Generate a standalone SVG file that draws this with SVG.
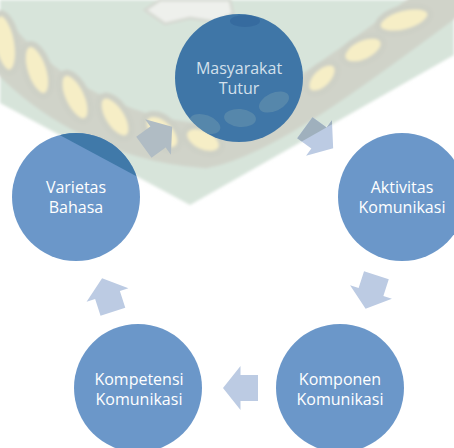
<svg xmlns="http://www.w3.org/2000/svg" width="454" height="448" viewBox="0 0 454 448">
<defs>
<style>
.node{fill:#6b97c9}
.lbl{font-family:"Open Sans","Noto Sans",sans-serif;font-size:16px;fill:#ffffff;text-anchor:middle}
.arr{fill:#bccbe3}
.leaf{fill:#f6eec6;stroke:#cdd0c6;stroke-width:6}
.tint{fill:#6e98b0;opacity:0.5}
</style>
<polygon id="arrow" points="-17.5,-13 0,-13 0,-22 17.5,0 0,22 0,13 -17.5,13"/>
<clipPath id="shieldClip"><polygon points="0,0 454,0 454,55 190,205 0,103"/></clipPath>
<clipPath id="topClip"><circle cx="239" cy="78" r="64"/></clipPath>
<filter id="soft" x="-5%" y="-5%" width="110%" height="110%"><feGaussianBlur stdDeviation="1.8"/></filter>
</defs>
<rect width="454" height="448" fill="#ffffff"/>
<g id="watermark" filter="url(#soft)">
  <polygon points="0,0 454,0 454,55 190,205 0,103" fill="#d7e4da"/>
  <path d="M -12,30 C 40,98 120,140 205,146 C 265,134 360,62 462,-14" fill="none" stroke="#d0d3c9" stroke-width="44"/>
  <ellipse class="leaf" cx="5" cy="43" rx="30" ry="12" transform="rotate(80 5 43)"/>
  <ellipse class="leaf" cx="37" cy="70" rx="27" ry="12" transform="rotate(72 37 70)"/>
  <ellipse class="leaf" cx="75" cy="97" rx="26" ry="12" transform="rotate(65 75 97)"/>
  <ellipse class="leaf" cx="115" cy="117" rx="24" ry="12" transform="rotate(58 115 117)"/>
  <ellipse class="leaf" cx="162" cy="132" rx="22" ry="13" transform="rotate(45 162 132)"/>
  <ellipse class="leaf" cx="203" cy="140" rx="20" ry="12" transform="rotate(25 203 140)"/>
  <ellipse class="leaf" cx="322" cy="78" rx="19" ry="11" transform="rotate(-45 322 78)"/>
  <ellipse class="leaf" cx="363" cy="50" rx="22" ry="12" transform="rotate(-25 363 50)"/>
  <ellipse class="leaf" cx="404" cy="20" rx="27" ry="12" transform="rotate(-15 404 20)"/>
  <polygon points="145,10 160,0 230,0 233,14 215,22 190,18 165,24" fill="#eef0ec" stroke="#d6d9d2" stroke-width="3"/>
</g>
<g id="connectors">
  <use href="#arrow" style="fill:#b0bcc4" transform="translate(158 137) rotate(-36)"/>
  <use href="#arrow" class="arr" transform="translate(319 138) rotate(36)"/>
  <g clip-path="url(#shieldClip)"><use href="#arrow" style="fill:#9fb0bd" transform="translate(319 138) rotate(36)"/></g>
  <use href="#arrow" class="arr" transform="translate(371 292) rotate(108)"/>
  <use href="#arrow" class="arr" transform="translate(240.5 388) rotate(180)"/>
  <use href="#arrow" class="arr" transform="translate(107.5 295) rotate(252)"/>
</g>
<g id="node-masyarakat">
  <circle cx="239" cy="78" r="64" fill="#3f76a7"/>
  <g clip-path="url(#topClip)">
    <ellipse class="tint" cx="205" cy="124" rx="16" ry="9" transform="rotate(20 205 124)"/>
    <ellipse class="tint" cx="240" cy="118" rx="16" ry="9" transform="rotate(5 240 118)"/>
    <ellipse class="tint" cx="274" cy="102" rx="16" ry="9" transform="rotate(-25 274 102)"/>
    <ellipse cx="245" cy="21" rx="15" ry="6" fill="#2d5f97" opacity="0.5"/>
  </g>
  <text class="lbl" x="239" y="74" style="fill:#d3e0ec">Masyarakat</text>
  <text class="lbl" x="239" y="94" style="fill:#d3e0ec">Tutur</text>
</g>
<g id="node-aktivitas">
  <circle class="node" cx="402" cy="197" r="64"/>
  <text class="lbl" x="402" y="193">Aktivitas</text>
  <text class="lbl" x="402" y="213">Komunikasi</text>
</g>
<g id="node-komponen">
  <circle class="node" cx="340" cy="388" r="64"/>
  <text class="lbl" x="340" y="385">Komponen</text>
  <text class="lbl" x="340" y="405">Komunikasi</text>
</g>
<g id="node-kompetensi">
  <circle class="node" cx="138" cy="388" r="64"/>
  <text class="lbl" x="139" y="385">Kompetensi</text>
  <text class="lbl" x="139" y="405">Komunikasi</text>
</g>
<g id="node-varietas">
  <circle class="node" cx="76" cy="197" r="64"/>
  <g clip-path="url(#shieldClip)"><circle cx="76" cy="197" r="64" fill="#4079a9"/></g>
  <text class="lbl" x="76" y="193">Varietas</text>
  <text class="lbl" x="76" y="213">Bahasa</text>
</g>
</svg>
